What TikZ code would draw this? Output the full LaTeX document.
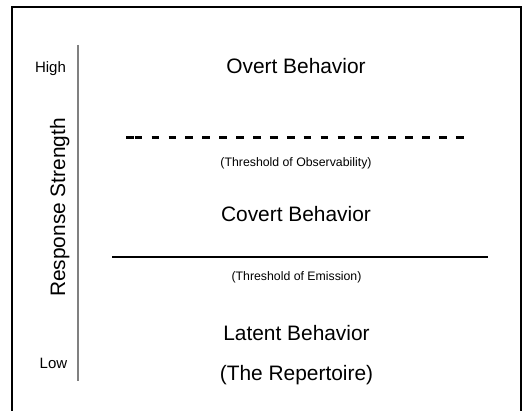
\documentclass[tikz,border=0pt]{standalone}
\usepackage{fontspec}
\setmainfont{Liberation Sans}
\begin{document}
\begin{tikzpicture}[x=1pt,y=-1pt,
  big/.style={font=\fontsize{20.9}{24}\selectfont, anchor=base, inner sep=0pt},
  small/.style={font=\fontsize{12.3}{14}\selectfont, anchor=base, inner sep=0pt},
  side/.style={font=\fontsize{15}{18}\selectfont, anchor=base, inner sep=0pt},
  frameline/.style={line width=2pt, black},
  axisline/.style={line width=1.7pt, color={rgb,255:red,128;green,128;blue,128}}]
\useasboundingbox (0,0) rectangle (527,411);
\clip (0,0) rectangle (527,411);
\fill[white] (0,0) rectangle (527,411);
% frame (bottom edge lies outside the picture)
\draw[frameline] (11.5,430) -- (11.5,7) -- (520.5,7) -- (520.5,430);
% axis
\coordinate (axtop) at (78,45);
\coordinate (axbot) at (78,381);
\draw[axisline] (axtop) -- (axbot);
\node[side] (high) at (50.5,72.6) {High};
\node[side] (low) at (53.5,368) {Low};
\node[big, rotate=90] (rs) at (65,207.5) {Response Strength};
% levels
\node[big] (overt) at (296,73.6) {Overt Behavior};
\coordinate (d0) at (126,138);
\coordinate (d1) at (133.7,138);
\coordinate (d2) at (134.7,138);
\coordinate (d3) at (463.7,138);
\draw[line width=3pt] (d0) -- (d1);
\draw[line width=3pt, dash pattern=on 7.7pt off 9.2pt] (d2) -- (d3);
\node[small] (tobs) at (296,166.5) {(Threshold of Observability)};
\node[big] (covert) at (296,221.9) {Covert Behavior};
\coordinate (s0) at (112,256.7);
\coordinate (s1) at (488.3,256.7);
\draw[line width=2.2pt] (s0) -- (s1);
\node[small] (temi) at (296.5,281) {(Threshold of Emission)};
\node[big] (latent) at (296.5,340.5) {Latent Behavior};
\node[big] (rep) at (296.5,380.5) {(The Repertoire)};
\end{tikzpicture}
\end{document}
